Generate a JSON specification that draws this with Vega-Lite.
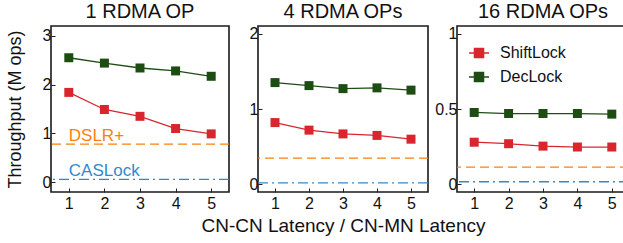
{
  "$schema": "https://vega.github.io/schema/vega-lite/v6.json",
  "background": "white",
  "padding": {"left": 5, "top": 0, "right": 0, "bottom": 2},
  "datasets": {
    "perf": [
      {"panel": "p1", "x": 1, "series": "ShiftLock", "y": 1.84},
      {"panel": "p1", "x": 2, "series": "ShiftLock", "y": 1.49},
      {"panel": "p1", "x": 3, "series": "ShiftLock", "y": 1.35},
      {"panel": "p1", "x": 4, "series": "ShiftLock", "y": 1.10},
      {"panel": "p1", "x": 5, "series": "ShiftLock", "y": 0.99},
      {"panel": "p1", "x": 1, "series": "DecLock", "y": 2.55},
      {"panel": "p1", "x": 2, "series": "DecLock", "y": 2.44},
      {"panel": "p1", "x": 3, "series": "DecLock", "y": 2.34},
      {"panel": "p1", "x": 4, "series": "DecLock", "y": 2.28},
      {"panel": "p1", "x": 5, "series": "DecLock", "y": 2.17},
      {"panel": "p2", "x": 1, "series": "ShiftLock", "y": 0.82},
      {"panel": "p2", "x": 2, "series": "ShiftLock", "y": 0.72},
      {"panel": "p2", "x": 3, "series": "ShiftLock", "y": 0.67},
      {"panel": "p2", "x": 4, "series": "ShiftLock", "y": 0.65},
      {"panel": "p2", "x": 5, "series": "ShiftLock", "y": 0.60},
      {"panel": "p2", "x": 1, "series": "DecLock", "y": 1.35},
      {"panel": "p2", "x": 2, "series": "DecLock", "y": 1.31},
      {"panel": "p2", "x": 3, "series": "DecLock", "y": 1.27},
      {"panel": "p2", "x": 4, "series": "DecLock", "y": 1.28},
      {"panel": "p2", "x": 5, "series": "DecLock", "y": 1.25},
      {"panel": "p3", "x": 1, "series": "ShiftLock", "y": 0.28},
      {"panel": "p3", "x": 2, "series": "ShiftLock", "y": 0.27},
      {"panel": "p3", "x": 3, "series": "ShiftLock", "y": 0.254},
      {"panel": "p3", "x": 4, "series": "ShiftLock", "y": 0.248},
      {"panel": "p3", "x": 5, "series": "ShiftLock", "y": 0.248},
      {"panel": "p3", "x": 1, "series": "DecLock", "y": 0.477},
      {"panel": "p3", "x": 2, "series": "DecLock", "y": 0.47},
      {"panel": "p3", "x": 3, "series": "DecLock", "y": 0.47},
      {"panel": "p3", "x": 4, "series": "DecLock", "y": 0.47},
      {"panel": "p3", "x": 5, "series": "DecLock", "y": 0.466}
    ],
    "refs": [
      {"panel": "p1", "ref": "DSLR+", "y": 0.78},
      {"panel": "p1", "ref": "CASLock", "y": 0.06},
      {"panel": "p2", "ref": "DSLR+", "y": 0.35},
      {"panel": "p2", "ref": "CASLock", "y": 0.02},
      {"panel": "p3", "ref": "DSLR+", "y": 0.115},
      {"panel": "p3", "ref": "CASLock", "y": 0.018}
    ]
  },
  "config": {
    "font": "Liberation Sans",
    "view": {"stroke": "#1a1a1a", "strokeWidth": 1.6},
    "axis": {
      "grid": false,
      "domain": false,
      "tickSize": -4,
      "tickColor": "#222",
      "labelFont": "Liberation Sans",
      "labelFontSize": 16,
      "labelColor": "#111",
      "labelPadding": 4,
      "titleFont": "Liberation Sans",
      "titleFontWeight": "normal",
      "titleColor": "#111"
    },
    "axisX": {"labelPadding": 7},
    "title": {"font": "Liberation Sans", "fontSize": 20, "fontWeight": "normal", "color": "#111", "offset": 4},
    "legend": {"labelFont": "Liberation Sans", "labelFontSize": 16, "labelColor": "#111"}
  },
  "spacing": 29,
  "bounds": "flush",
  "resolve": {"scale": {"color": "independent", "y": "independent"}, "legend": {"color": "independent"}},
  "hconcat": [
    {
      "title": "1 RDMA OP",
      "width": 178,
      "height": 166,
      "layer": [
        {
          "data": {"name": "refs"},
          "transform": [{"filter": "datum.panel === 'p1' && datum.ref === 'DSLR+'"}],
          "mark": {"type": "rule", "color": "#ff7f0e", "strokeDash": [9, 5], "strokeWidth": 1.3},
          "encoding": {"y": {"field": "y", "type": "quantitative"}}
        },
        {
          "data": {"name": "refs"},
          "transform": [{"filter": "datum.panel === 'p1' && datum.ref === 'CASLock'"}],
          "mark": {"type": "rule", "color": "#3388cc", "strokeDash": [10, 4, 2, 4], "strokeWidth": 1.3},
          "encoding": {"y": {"field": "y", "type": "quantitative"}}
        },
        {
          "data": {"name": "refs"},
          "transform": [{"filter": "datum.panel === 'p1'"}],
          "mark": {"type": "text", "align": "left", "baseline": "alphabetic", "dy": -3, "fontSize": 17, "font": "Liberation Sans"},
          "encoding": {
            "x": {"datum": 1, "type": "quantitative"},
            "y": {"field": "y", "type": "quantitative"},
            "text": {"field": "ref"},
            "color": {"field": "ref", "type": "nominal", "scale": {"domain": ["DSLR+", "CASLock"], "range": ["#ff7f0e", "#3388cc"]}, "legend": null}
          }
        },
        {
          "data": {"name": "perf"},
          "transform": [{"filter": "datum.panel === 'p1'"}],
          "mark": {"type": "line", "strokeWidth": 1.3},
          "encoding": {
            "x": {"field": "x", "type": "quantitative"},
            "y": {"field": "y", "type": "quantitative"},
            "detail": {"field": "series"},
            "stroke": {"field": "series", "type": "nominal", "scale": {"domain": ["ShiftLock", "DecLock"], "range": ["#d9262e", "#1e4d14"]}, "legend": null}
          }
        },
        {
          "data": {"name": "perf"},
          "transform": [{"filter": "datum.panel === 'p1'"}],
          "mark": {"type": "point", "shape": "square", "filled": true, "size": 81, "opacity": 1},
          "encoding": {
            "x": {"field": "x", "type": "quantitative", "scale": {"domain": [0.5, 5.5], "nice": false, "zero": false}, "axis": {"values": [1, 2, 3, 4, 5], "title": null}},
            "y": {"field": "y", "type": "quantitative", "scale": {"domain": [-0.2, 3.2], "nice": false, "zero": false}, "axis": {"values": [0, 1, 2, 3], "format": "~g", "title": "Throughput (M ops)", "titleFontSize": 18, "titlePadding": 18}},
            "fill": {"field": "series", "type": "nominal", "scale": {"domain": ["ShiftLock", "DecLock"], "range": ["#d9262e", "#1e4d14"]}, "legend": null}
          }
        }
      ],
      "resolve": {"scale": {"color": "independent"}}
    },
    {
      "title": "4 RDMA OPs",
      "width": 170,
      "height": 166,
      "layer": [
        {
          "data": {"name": "refs"},
          "transform": [{"filter": "datum.panel === 'p2' && datum.ref === 'DSLR+'"}],
          "mark": {"type": "rule", "color": "#ff7f0e", "strokeDash": [9, 5], "strokeWidth": 1.3},
          "encoding": {"y": {"field": "y", "type": "quantitative"}}
        },
        {
          "data": {"name": "refs"},
          "transform": [{"filter": "datum.panel === 'p2' && datum.ref === 'CASLock'"}],
          "mark": {"type": "rule", "color": "#3388cc", "strokeDash": [10, 4, 2, 4], "strokeWidth": 1.3},
          "encoding": {"y": {"field": "y", "type": "quantitative"}}
        },
        {
          "data": {"name": "perf"},
          "transform": [{"filter": "datum.panel === 'p2'"}],
          "mark": {"type": "line", "strokeWidth": 1.3},
          "encoding": {
            "x": {"field": "x", "type": "quantitative"},
            "y": {"field": "y", "type": "quantitative"},
            "detail": {"field": "series"},
            "stroke": {"field": "series", "type": "nominal", "scale": {"domain": ["ShiftLock", "DecLock"], "range": ["#d9262e", "#1e4d14"]}, "legend": null}
          }
        },
        {
          "data": {"name": "perf"},
          "transform": [{"filter": "datum.panel === 'p2'"}],
          "mark": {"type": "point", "shape": "square", "filled": true, "size": 81, "opacity": 1},
          "encoding": {
            "x": {"field": "x", "type": "quantitative", "scale": {"domain": [0.5, 5.5], "nice": false, "zero": false}, "axis": {"values": [1, 2, 3, 4, 5], "title": "CN-CN Latency / CN-MN Latency", "titleFontSize": 19, "titlePadding": 5}},
            "y": {"field": "y", "type": "quantitative", "scale": {"domain": [-0.1, 2.1], "nice": false, "zero": false}, "axis": {"values": [0, 1, 2], "format": "~g", "title": null}},
            "fill": {"field": "series", "type": "nominal", "scale": {"domain": ["ShiftLock", "DecLock"], "range": ["#d9262e", "#1e4d14"]}, "legend": null}
          }
        }
      ]
    },
    {
      "title": "16 RDMA OPs",
      "width": 172,
      "height": 166,
      "layer": [
        {
          "data": {"name": "refs"},
          "transform": [{"filter": "datum.panel === 'p3' && datum.ref === 'DSLR+'"}],
          "mark": {"type": "rule", "color": "#ff7f0e", "strokeDash": [9, 5], "strokeWidth": 1.3},
          "encoding": {"y": {"field": "y", "type": "quantitative"}}
        },
        {
          "data": {"name": "refs"},
          "transform": [{"filter": "datum.panel === 'p3' && datum.ref === 'CASLock'"}],
          "mark": {"type": "rule", "color": "#3388cc", "strokeDash": [10, 4, 2, 4], "strokeWidth": 1.3},
          "encoding": {"y": {"field": "y", "type": "quantitative"}}
        },
        {
          "data": {"name": "perf"},
          "transform": [{"filter": "datum.panel === 'p3'"}],
          "mark": {"type": "line", "strokeWidth": 1.3},
          "encoding": {
            "x": {"field": "x", "type": "quantitative"},
            "y": {"field": "y", "type": "quantitative"},
            "color": {"field": "series", "type": "nominal", "scale": {"domain": ["ShiftLock", "DecLock"], "range": ["#d9262e", "#1e4d14"]},
              "legend": {"title": null, "orient": "none", "legendX": 11, "legendY": 16, "symbolType": "M-1,0H1M-0.45,-0.45H0.45V0.45H-0.45Z", "symbolSize": 400, "symbolStrokeWidth": 1.5, "rowPadding": 5, "labelOffset": 10, "padding": 0,
                "encode": {"symbols": {"update": {"fill": {"scale": "color", "field": "value"}, "fillOpacity": {"value": 1}}}}}}
          }
        },
        {
          "data": {"name": "perf"},
          "transform": [{"filter": "datum.panel === 'p3'"}],
          "mark": {"type": "point", "shape": "square", "filled": true, "size": 81, "opacity": 1},
          "encoding": {
            "x": {"field": "x", "type": "quantitative", "scale": {"domain": [0.5, 5.5], "nice": false, "zero": false}, "axis": {"values": [1, 2, 3, 4, 5], "title": null}},
            "y": {"field": "y", "type": "quantitative", "scale": {"domain": [-0.05, 1.05], "nice": false, "zero": false}, "axis": {"values": [0, 0.5, 1], "format": "~g", "title": null}},
            "color": {"field": "series", "type": "nominal"}
          }
        }
      ]
    }
  ]
}
